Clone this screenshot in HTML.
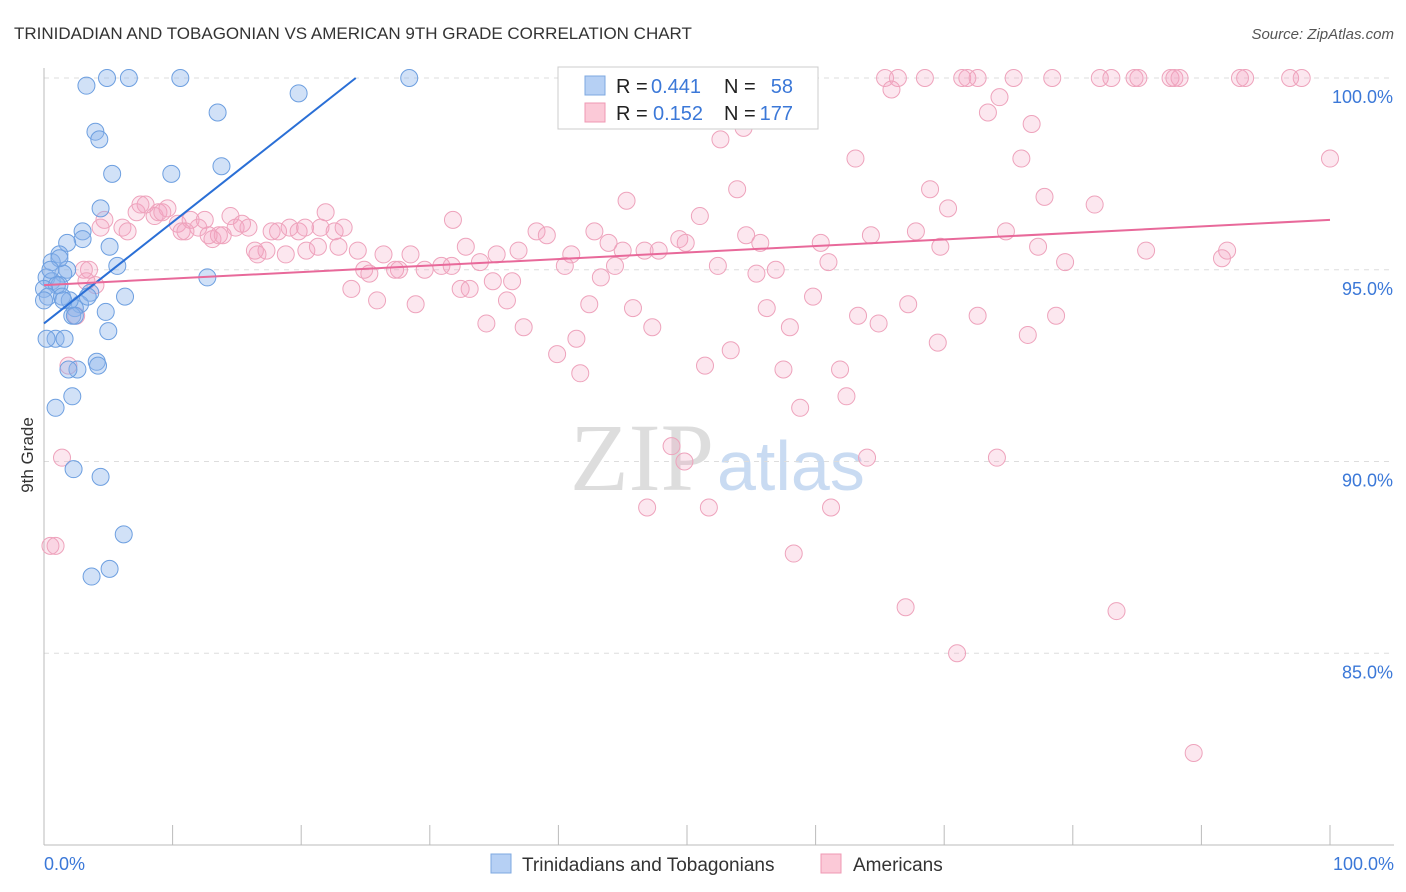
<!DOCTYPE html>
<html><head><meta charset="utf-8">
<style>
body{margin:0;background:#fff;font-family:"Liberation Sans",sans-serif;}
#wrap{position:relative;width:1406px;height:892px;overflow:hidden;}
</style></head>
<body>
<div id="wrap">
<svg id="chart" width="1406" height="892">
<text x="14" y="39" font-size="17" fill="#333">TRINIDADIAN AND TOBAGONIAN VS AMERICAN 9TH GRADE CORRELATION CHART</text>
<text x="1394" y="39" font-size="15" fill="#555" font-style="italic" text-anchor="end">Source: ZipAtlas.com</text>
<text x="33" y="455" font-size="17" fill="#333" text-anchor="middle" transform="rotate(-90 33 455)">9th Grade</text>
<text x="714" y="490" font-size="96" fill="#ddd" text-anchor="end" font-family="Liberation Serif">ZIP</text>
<text x="717" y="490" font-size="70" fill="#c9dbf2">atlas</text>
<g id="grid"></g><g id="axes"></g><g id="pts"></g><g id="lines"></g>
<g>
<rect x="558" y="67" width="260" height="62" fill="#fff" stroke="#ccc"/>
<rect x="585" y="76" width="20" height="19" fill="#b6d0f4" stroke="#7ea8e0"/>
<rect x="585" y="103" width="20" height="19" fill="#fbc9d7" stroke="#ef98b3"/>
<text x="616" y="93" font-size="20" fill="#222">R =</text>
<text x="651" y="93" font-size="20" fill="#3b78d8">0.441</text>
<text x="724" y="93" font-size="20" fill="#222">N =</text>
<text x="793" y="93" font-size="20" fill="#3b78d8" text-anchor="end">58</text>
<text x="616" y="120" font-size="20" fill="#222">R =</text>
<text x="653" y="120" font-size="20" fill="#3b78d8">0.152</text>
<text x="724" y="120" font-size="20" fill="#222">N =</text>
<text x="793" y="120" font-size="20" fill="#3b78d8" text-anchor="end">177</text>
</g>
<g>
<rect x="491" y="854" width="20" height="19" fill="#b6d0f4" stroke="#7ea8e0"/>
<text x="522" y="871" font-size="19" fill="#333">Trinidadians and Tobagonians</text>
<rect x="821" y="854" width="20" height="19" fill="#fbc9d7" stroke="#ef98b3"/>
<text x="853" y="871" font-size="19" fill="#333">Americans</text>
</g>
</svg>
</div>
<script>
const blueX=[3.3,4.9,6.6,10.6,28.4,19.8,13.5,4.0,4.3,5.3,9.9,13.8,4.4,3.0,3.0,1.8,5.1,1.2,0.6,1.8,1.5,5.7,12.7,0.2,0.6,1.2,1.0,0,0.3,1.4,3.6,6.3,2.8,2.4,2.2,4.8,5.0,0.9,1.6,4.1,4.2,2.6,1.9,0.9,2.2,2.3,4.4,6.2,3.7,5.1,0,0.2,2.0,1.2,0.5,3.4,2.4,1.5];
const blueY=[99.8,100,100,100,100,99.6,99.1,98.6,98.4,97.5,97.5,97.7,96.6,96.0,95.8,95.7,95.6,95.4,95.2,95.0,94.9,95.1,94.8,94.8,94.7,94.6,94.6,94.5,94.3,94.3,94.4,94.3,94.1,94.0,93.8,93.9,93.4,93.2,93.2,92.6,92.5,92.4,92.4,91.4,91.7,89.8,89.6,88.1,87.0,87.2,94.2,93.2,94.2,95.3,95.0,94.3,93.8,94.2];
const pinkX=[59.3,65.4,66.4,68.5,71.4,71.8,72.6,75.4,78.4,82.1,83.0,84.8,85.1,87.6,87.9,88.3,93.0,93.4,96.9,97.8,65.9,74.3,73.4,76.8,54.4,52.6,63.1,76.0,100,53.9,68.9,77.8,45.3,70.3,81.7,51.0,31.8,74.8,67.8,54.6,64.3,42.8,38.3,39.1,43.9,55.7,60.4,49.4,32.8,36.9,46.7,47.8,49.9,45.0,69.7,77.3,85.7,92.0,41.0,35.2,28.5,26.4,24.4,22.9,20.4,18.8,17.3,16.6,61.0,52.4,56.9,55.4,40.5,44.4,33.9,30.9,31.7,29.6,27.6,27.3,25.3,24.9,23.9,25.9,28.9,32.4,33.1,34.9,36.0,36.4,43.3,34.4,37.3,41.4,42.4,45.8,47.3,56.2,58.0,59.8,63.3,64.9,67.2,69.5,72.6,76.5,78.7,79.4,91.6,53.4,51.4,39.9,41.7,57.5,61.9,58.8,62.4,48.8,49.8,64.0,74.1,46.9,51.7,61.2,58.3,67.0,83.4,71.0,89.4,
4.7,6.1,6.5,4.4,7.2,7.9,8.6,8.9,9.6,10.4,10.7,11.4,12.0,12.5,13.1,13.6,13.9,14.5,14.9,15.4,15.9,16.4,17.7,18.2,19.1,19.8,20.3,21.5,21.9,21.3,22.6,23.3,3.5,3.1,4.0,2.5,1.9,1.4,0.5,0.9,3.3,7.5,9.2,11.0,12.8];
const pinkY=[100,100,100,100,100,100,100,100,100,100,100,100,100,100,100,100,100,100,100,100,99.7,99.5,99.1,98.8,98.7,98.4,97.9,97.9,97.9,97.1,97.1,96.9,96.8,96.6,96.7,96.4,96.3,96.0,96.0,95.9,95.9,96.0,96.0,95.9,95.7,95.7,95.7,95.8,95.6,95.5,95.5,95.5,95.7,95.5,95.6,95.6,95.5,95.5,95.4,95.4,95.4,95.4,95.5,95.6,95.5,95.4,95.5,95.4,95.2,95.1,95.0,94.9,95.1,95.1,95.2,95.1,95.1,95.0,95.0,95.0,94.9,95.0,94.5,94.2,94.1,94.5,94.5,94.7,94.2,94.7,94.8,93.6,93.5,93.2,94.1,94.0,93.5,94.0,93.5,94.3,93.8,93.6,94.1,93.1,93.8,93.3,93.8,95.2,95.3,92.9,92.5,92.8,92.3,92.4,92.4,91.4,91.7,90.4,90.0,90.1,90.1,88.8,88.8,88.8,87.6,86.2,86.1,85.0,82.4,
96.3,96.1,96.0,96.1,96.5,96.7,96.4,96.5,96.6,96.2,96.0,96.3,96.1,96.3,95.8,95.9,95.9,96.4,96.1,96.2,96.1,95.5,96.0,96.0,96.1,96.0,96.1,96.1,96.5,95.6,96.0,96.1,95.0,95.0,94.6,93.8,92.5,90.1,87.8,87.8,94.7,96.7,96.5,96.0,95.9];
const trendIntercept=[93.6,94.6];
const trendSlope=[0.264,0.017];
const yTicks=[100,95,90,85];
const xTickLabels=["0.0%","100.0%"];

const NS="http://www.w3.org/2000/svg";
const X0=44,X1=1330,YTOP=78,YBOT=845;
const xs=v=>X0+(X1-X0)*v/100;
const ys=v=>YTOP+(100-v)*(YBOT-YTOP)/20;
function mk(t,a,p){const e=document.createElementNS(NS,t);for(const k in a)e.setAttribute(k,a[k]);p.appendChild(e);return e;}
const grid=document.getElementById('grid'),axes=document.getElementById('axes'),pts=document.getElementById('pts'),lines=document.getElementById('lines');
yTicks.forEach(v=>{
  const l=mk('line',{x1:X0,x2:1394,y1:ys(v),y2:ys(v),stroke:'#ddd','stroke-dasharray':'5,5'},grid);
  
  
  const t=mk('text',{x:1393,y:ys(v)+25,'font-size':18,fill:'#3b78d8','text-anchor':'end'},grid);
  t.textContent=v.toFixed(1)+'%';
  
  
});
const ya=mk('line',{x1:X0,x2:X0,y1:68,y2:YBOT,stroke:'#bbb'},axes);


const xa=mk('line',{x1:X0,x2:1394,y1:YBOT,y2:YBOT,stroke:'#bbb'},axes);


for(let i=0;i<=10;i++){
  const t=mk('line',{x1:xs(i*10),x2:xs(i*10),y1:825,y2:YBOT,stroke:'#bbb'},axes);
  
  
}
[[0,'start',X0],[1,'end',1394]].forEach(([i,a,x])=>{
  const t=mk('text',{x:x,y:870,'font-size':18,fill:'#3b78d8','text-anchor':a},axes);
  t.textContent=xTickLabels[i];
  
  
});
pinkX.forEach((v,i)=>{
  const c=mk('circle',{cx:xs(v),cy:ys(pinkY[i]),r:8.5,fill:'rgba(244,160,190,0.25)',stroke:'#eea3bc','stroke-width':1},pts);
  
  
});
blueX.forEach((v,i)=>{
  const c=mk('circle',{cx:xs(v),cy:ys(blueY[i]),r:8.5,fill:'rgba(140,180,235,0.4)',stroke:'#6d9fe0','stroke-width':1},pts);
  
  
});
const colors=['#2a6fd6','#e8699a'];
trendIntercept.forEach((b,i)=>{
  const m=trendSlope[i];
  let xEnd=100; if(b+m*100>100) xEnd=(100-b)/m;
  const l=mk('line',{x1:xs(0),y1:ys(b),x2:xs(xEnd),y2:ys(b+m*xEnd),stroke:colors[i],'stroke-width':2},lines);
  
  
});
</script>
</body></html>
